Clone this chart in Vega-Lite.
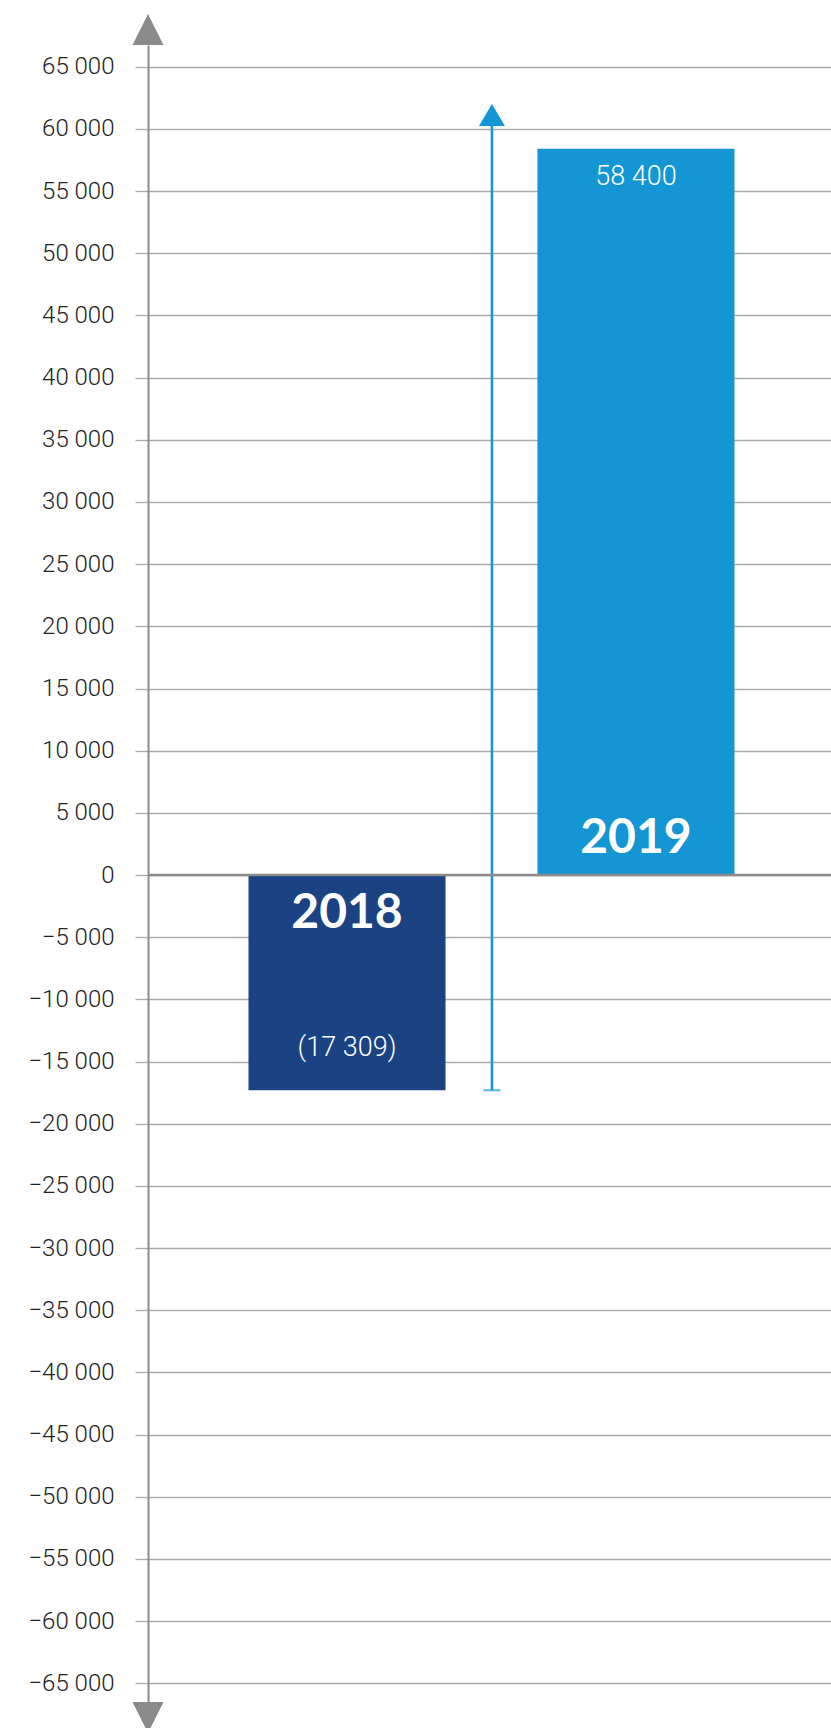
{
  "$schema": "https://vega.github.io/schema/vega-lite/v6.json",
  "width": 683,
  "height": 1657,
  "autosize": {"type": "none"},
  "padding": {"left": 148, "top": 45, "right": 0, "bottom": 26},
  "background": "white",
  "config": {"view": {"stroke": null}, "font": "Roboto"},
  "datasets": {
    "bars": [
      {"year": "2018", "value": -17309, "label": "(17 309)"},
      {"year": "2019", "value": 58400, "label": "58 400"}
    ],
    "change": [{"from": -17309, "tip": 61117}],
    "ends": [
      {"end": "top", "value": 67996},
      {"end": "bottom", "value": -67746}
    ]
  },
  "resolve": {"scale": {"x": "independent"}},
  "layer": [
    {
      "layer": [
        {
          "data": {"name": "bars"},
          "mark": {"type": "bar"},
          "encoding": {
            "x": {"field": "year", "type": "nominal", "axis": null,
              "scale": {"domain": ["2018", "2019"], "paddingInner": 0.318, "paddingOuter": 0.341, "align": 0.51}},
            "y": {"field": "value", "type": "quantitative",
              "scale": {"domain": [-66500, 66750], "nice": false, "zero": false},
              "axis": {
                "title": null,
                "values": [-65000, -60000, -55000, -50000, -45000, -40000, -35000, -30000, -25000, -20000, -15000, -10000, -5000, 0, 5000, 10000, 15000, 20000, 25000, 30000, 35000, 40000, 45000, 50000, 55000, 60000, 65000],
                "labelExpr": "replace(format(datum.value, ','), ',', ' ')",
                "grid": true, "gridColor": "#aaaaaa", "gridWidth": 1.3,
                "tickColor": "#aaaaaa", "tickSize": 13, "tickWidth": 1.3,
                "domainColor": "#8a8a8a", "domainWidth": 2,
                "labelFont": "Roboto", "labelFontSize": 24, "labelFontWeight": 300,
                "labelColor": "#222222", "labelPadding": 21
              }},
            "color": {"field": "year", "type": "nominal", "legend": null,
              "scale": {"domain": ["2018", "2019"], "range": ["#1b4282", "#1396d3"]}}
          }
        },
        {
          "data": {"name": "bars"},
          "transform": [{"filter": "datum.year == '2019'"}],
          "mark": {"type": "text", "font": "Roboto", "fontWeight": 300, "fontSize": 27, "color": "white", "baseline": "middle", "dy": 28},
          "encoding": {
            "x": {"field": "year", "type": "nominal"},
            "y": {"field": "value", "type": "quantitative", "scale": {"domain": [-66500, 66750], "nice": false, "zero": false}},
            "text": {"field": "label"}
          }
        },
        {
          "data": {"name": "bars"},
          "transform": [{"filter": "datum.year == '2018'"}],
          "mark": {"type": "text", "font": "Roboto", "fontWeight": 300, "fontSize": 27, "color": "white", "baseline": "middle", "dy": -42},
          "encoding": {
            "x": {"field": "year", "type": "nominal"},
            "y": {"field": "value", "type": "quantitative", "scale": {"domain": [-66500, 66750], "nice": false, "zero": false}},
            "text": {"field": "label"}
          }
        },
        {
          "data": {"name": "bars"},
          "transform": [{"filter": "datum.year == '2019'"}],
          "mark": {"type": "text", "font": "Lato", "fontWeight": "bold", "fontSize": 48, "color": "white", "baseline": "middle", "dy": -36},
          "encoding": {
            "x": {"field": "year", "type": "nominal"},
            "y": {"datum": 0, "type": "quantitative", "scale": {"domain": [-66500, 66750], "nice": false, "zero": false}},
            "text": {"field": "year"}
          }
        },
        {
          "data": {"name": "bars"},
          "transform": [{"filter": "datum.year == '2018'"}],
          "mark": {"type": "text", "font": "Lato", "fontWeight": "bold", "fontSize": 48, "color": "white", "baseline": "middle", "dy": 39},
          "encoding": {
            "x": {"field": "year", "type": "nominal"},
            "y": {"datum": 0, "type": "quantitative", "scale": {"domain": [-66500, 66750], "nice": false, "zero": false}},
            "text": {"field": "year"}
          }
        },
        {
          "data": {"name": "change"},
          "mark": {"type": "rule", "color": "#1396d3", "strokeWidth": 2.5, "xOffset": -144},
          "encoding": {
            "x": {"datum": "2019", "type": "nominal"},
            "y": {"field": "from", "type": "quantitative", "scale": {"domain": [-66500, 66750], "nice": false, "zero": false}},
            "y2": {"field": "tip"}
          }
        },
        {
          "data": {"name": "change"},
          "mark": {"type": "tick", "color": "#1396d3", "size": 17, "thickness": 2, "xOffset": -144},
          "encoding": {
            "x": {"datum": "2019", "type": "nominal"},
            "y": {"field": "from", "type": "quantitative", "scale": {"domain": [-66500, 66750], "nice": false, "zero": false}}
          }
        },
        {
          "data": {"name": "change"},
          "mark": {"type": "point", "filled": true, "opacity": 1, "color": "#1396d3", "size": 676, "shape": "M0,-0.846L1,0.846L-1,0.846Z", "xOffset": -144},
          "encoding": {
            "x": {"datum": "2019", "type": "nominal"},
            "y": {"field": "tip", "type": "quantitative", "scale": {"domain": [-66500, 66750], "nice": false, "zero": false}}
          }
        },
        {
          "data": {"values": [{}]},
          "mark": {"type": "rule", "color": "#8a8a8a", "strokeWidth": 2.6},
          "encoding": {
            "y": {"datum": 0, "type": "quantitative", "scale": {"domain": [-66500, 66750], "nice": false, "zero": false}}
          }
        }
      ]
    },
    {
      "data": {"name": "ends"},
      "mark": {"type": "point", "filled": true, "opacity": 1, "color": "#8a8a8a", "size": 961},
      "encoding": {
        "x": {"datum": 0, "type": "quantitative", "scale": {"domain": [0, 1]}, "axis": null},
        "y": {"field": "value", "type": "quantitative", "scale": {"domain": [-66500, 66750], "nice": false, "zero": false}},
        "shape": {"field": "end", "type": "nominal", "legend": null,
          "scale": {"domain": ["top", "bottom"], "range": ["M0,-1L1,1L-1,1Z", "M0,1L1,-1L-1,-1Z"]}}
      }
    }
  ]
}
